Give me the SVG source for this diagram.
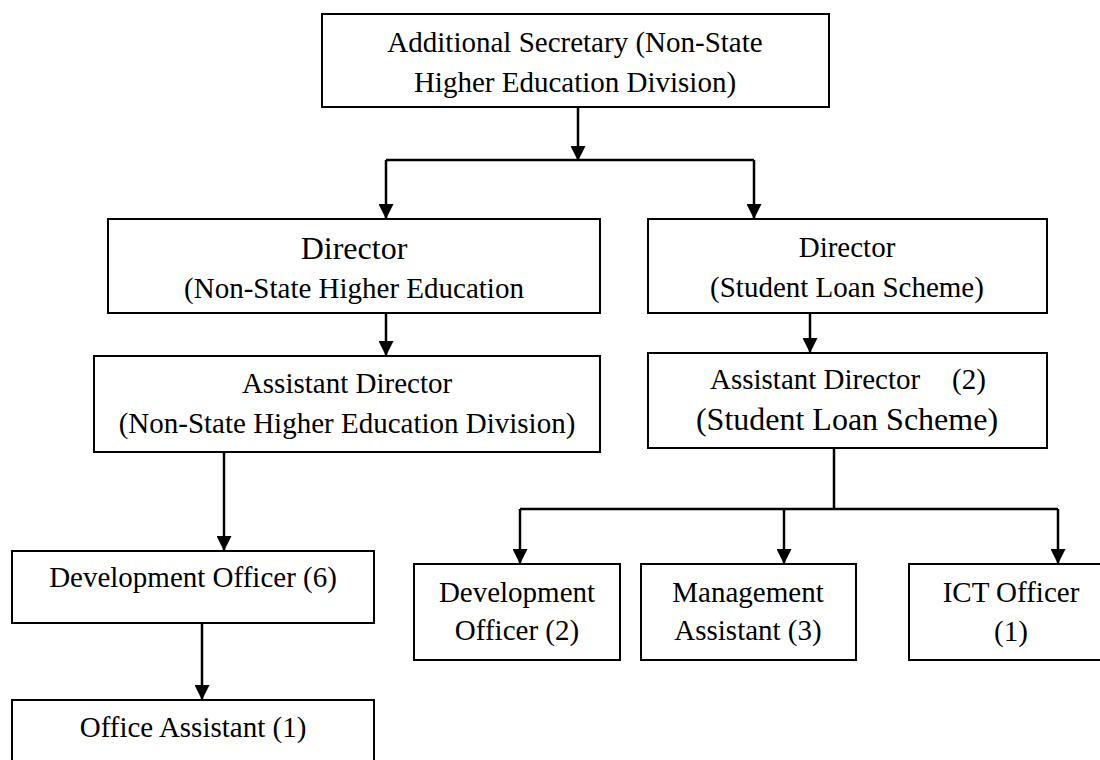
<svg xmlns="http://www.w3.org/2000/svg" width="1100" height="760" viewBox="0 0 1100 760">
<defs>
<marker id="ah" markerUnits="userSpaceOnUse" viewBox="0 0 16 16" refX="16" refY="8" markerWidth="16" markerHeight="15" orient="auto">
<path d="M0,0 L16,8 L0,16 z" fill="#000"/>
</marker>
<style>
.box{fill:#fff;stroke:#000;stroke-width:2}
.t{font-family:"Liberation Serif","Times New Roman",serif;font-size:29px;fill:#000;text-anchor:middle}
.big{font-size:32px}
.ln{fill:none;stroke:#000;stroke-width:2.5}
.ar{fill:none;stroke:#000;stroke-width:2.5;marker-end:url(#ah)}
</style>
</defs>
<rect width="1100" height="760" fill="#fff"/>
<g id="connectors">
<line class="ar" x1="578" y1="107" x2="578" y2="161"/>
<polyline class="ln" points="386,160 754,160"/>
<line class="ar" x1="386" y1="160" x2="386" y2="219"/>
<line class="ar" x1="754" y1="160" x2="754" y2="219"/>
<line class="ar" x1="386" y1="313" x2="386" y2="356"/>
<line class="ar" x1="810" y1="313" x2="810" y2="353"/>
<line class="ar" x1="224" y1="452" x2="224" y2="551"/>
<line class="ar" x1="202" y1="623" x2="202" y2="700"/>
<line class="ln" x1="834" y1="448" x2="834" y2="509"/>
<polyline class="ln" points="520,509 1058,509"/>
<line class="ar" x1="520" y1="509" x2="520" y2="564"/>
<line class="ar" x1="784" y1="509" x2="784" y2="564"/>
<line class="ar" x1="1058" y1="509" x2="1058" y2="564"/>
</g>
<g id="n-addsec">
<rect class="box" x="322" y="14" width="507" height="93"/>
<text class="t" x="575" y="52">Additional Secretary (Non-State</text>
<text class="t" x="575" y="92">Higher Education Division)</text>
</g>
<g id="n-dir-nshe">
<rect class="box" x="108" y="219" width="492" height="94"/>
<text class="t big" x="354" y="259">Director</text>
<text class="t" x="354" y="298">(Non-State Higher Education</text>
</g>
<g id="n-dir-sls">
<rect class="box" x="648" y="219" width="399" height="94"/>
<text class="t" x="847" y="257">Director</text>
<text class="t" x="847" y="297">(Student Loan Scheme)</text>
</g>
<g id="n-ad-nshe">
<rect class="box" x="94" y="356" width="506" height="96"/>
<text class="t" x="347" y="393">Assistant Director</text>
<text class="t" x="347" y="433">(Non-State Higher Education Division)</text>
</g>
<g id="n-ad-sls">
<rect class="box" x="648" y="353" width="399" height="95"/>
<text class="t" style="text-anchor:start" x="710" y="389">Assistant Director<tspan x="952">(2)</tspan></text>
<text class="t big" x="847" y="430">(Student Loan Scheme)</text>
</g>
<g id="n-devoff6">
<rect class="box" x="12" y="551" width="362" height="72"/>
<text class="t" x="193" y="587">Development Officer (6)</text>
</g>
<g id="n-offasst">
<rect class="box" x="12" y="700" width="362" height="72"/>
<text class="t" x="193" y="737">Office Assistant (1)</text>
</g>
<g id="n-devoff2">
<rect class="box" x="414" y="564" width="206" height="96"/>
<text class="t" x="517" y="602">Development</text>
<text class="t" x="517" y="640">Officer (2)</text>
</g>
<g id="n-mgmt">
<rect class="box" x="641" y="564" width="215" height="96"/>
<text class="t" x="748" y="602">Management</text>
<text class="t" x="748" y="640">Assistant (3)</text>
</g>
<g id="n-ict">
<rect class="box" x="909" y="564" width="204" height="96"/>
<text class="t" x="1011" y="602">ICT Officer</text>
<text class="t" x="1011" y="641">(1)</text>
</g>
</svg>
